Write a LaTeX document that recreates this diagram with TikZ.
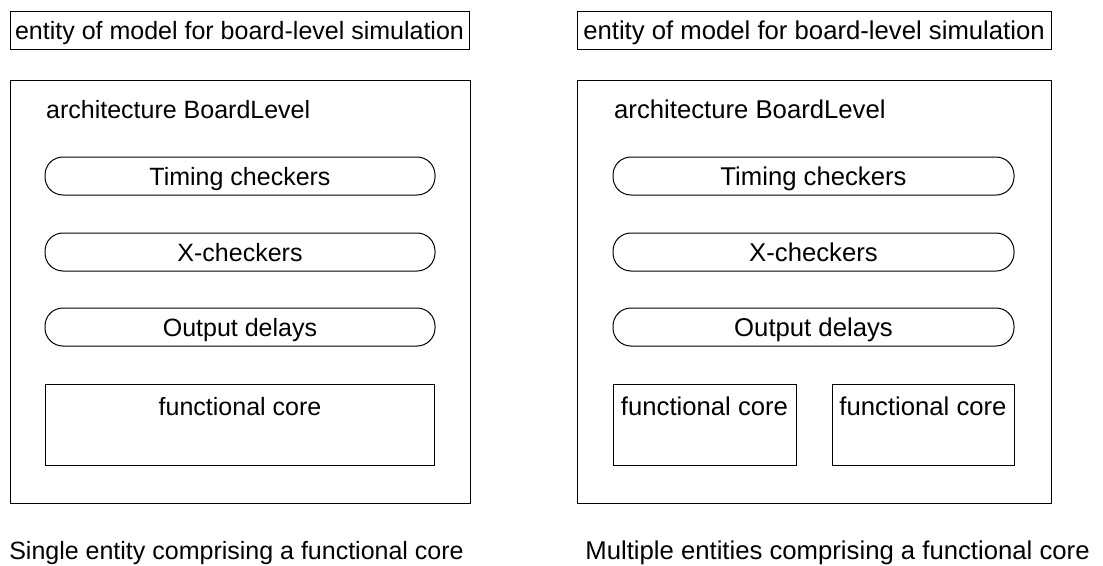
\documentclass[tikz,border=0pt]{standalone}
\usepackage{fontspec}
\setmainfont{Liberation Sans}
\begin{document}
\begin{tikzpicture}[x=1pt,y=-1pt,
  every node/.style={inner sep=0pt, text height=18pt, text depth=0pt},
  lf/.style={font=\fontsize{25}{30}\selectfont},
  rf/.style={font=\fontsize{25.7}{30}\selectfont},
  box/.style={draw, line width=1pt},
  pill/.style={draw, line width=1pt, rounded corners=18pt, minimum height=38pt, anchor=center},
  corebox/.style={draw, line width=1pt, anchor=north west}]
\useasboundingbox (0,0) rectangle (1103,565);
% left
\node[box, lf, minimum width=459pt, minimum height=38pt] (t1) at (239.5,30) {entity of model for board-level simulation};
\node[box, minimum width=460pt, minimum height=423pt] (a1) at (240,291.5) {};
\node[lf, anchor=west] (n1) at (46,109) {architecture BoardLevel};
\node[pill, lf, minimum width=390pt] (tc1) at (240,176) {Timing checkers};
\node[pill, lf, minimum width=390pt] (xc1) at (240,252) {X-checkers};
\node[pill, lf, minimum width=390pt] (od1) at (240,327) {Output delays};
\node[corebox, minimum width=389pt, minimum height=81pt] (fc1) at (45,384) {};
\node[lf] (fct1) at (240,406) {functional core};
\node[lf] (c1) at (236.5,550) {Single entity comprising a functional core};
% right
\node[box, rf, minimum width=474pt, minimum height=38pt] (t2) at (814,30) {entity of model for board-level simulation};
\node[box, minimum width=474pt, minimum height=423pt] (a2) at (814,291.5) {};
\node[rf, anchor=west] (n2) at (614,109) {architecture BoardLevel};
\node[pill, rf, minimum width=401pt] (tc2) at (813.5,176) {Timing checkers};
\node[pill, rf, minimum width=401pt] (xc2) at (813.5,252) {X-checkers};
\node[pill, rf, minimum width=401pt] (od2) at (813.5,327) {Output delays};
\node[corebox, minimum width=183pt, minimum height=81pt] (fc2) at (613,384) {};
\node[rf] (fct2) at (704.5,406) {functional core};
\node[corebox, minimum width=182pt, minimum height=81pt] (fc3) at (832,384) {};
\node[rf] (fct3) at (923,406) {functional core};
\node[rf] (c2) at (837.5,550) {Multiple entities comprising a functional core};
\end{tikzpicture}
\end{document}
